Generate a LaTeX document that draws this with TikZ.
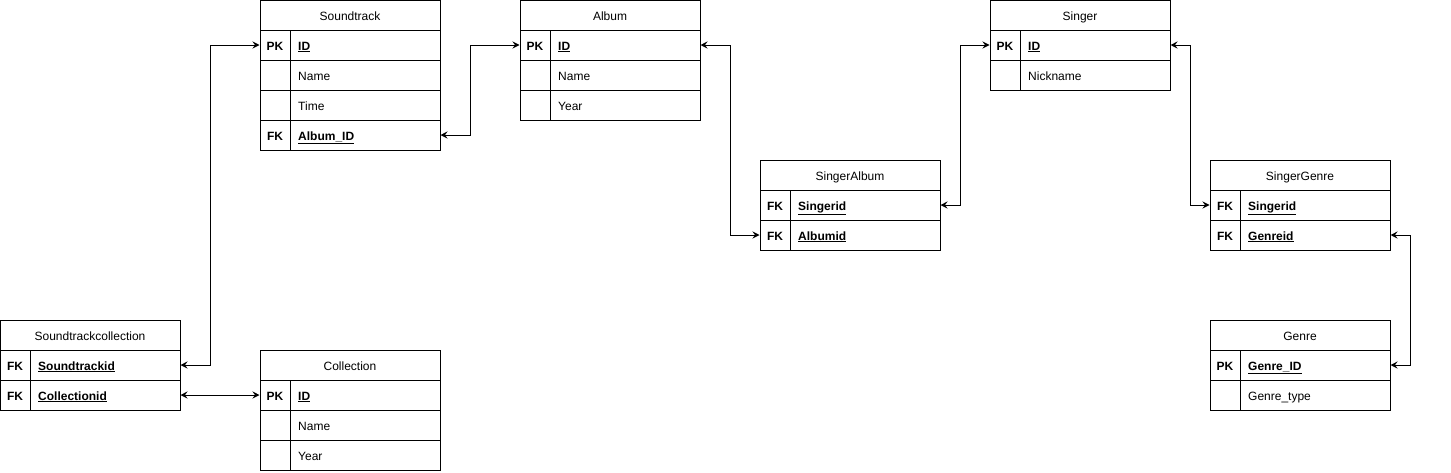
\documentclass[tikz,border=0pt]{standalone}
\usepackage{fontspec}
\setmainfont{Liberation Sans}
\usetikzlibrary{arrows.meta}
\tikzset{
  rowbox/.style={draw, line width=1pt, minimum width=180pt, minimum height=30pt, inner sep=0pt, fill=white},
  keytxt/.style={inner sep=0pt, anchor=base, font=\fontsize{12}{14}\selectfont\bfseries},
  fldtxt/.style={inner sep=0pt, anchor=base west, font=\fontsize{12}{14}\selectfont},
  hdrtxt/.style={inner sep=0pt, anchor=base, font=\fontsize{12}{14}\selectfont},
  divider/.style={line width=1pt},
  conn/.style={line width=1pt, {Stealth[length=7pt,width=7pt,inset=2.5pt]}-{Stealth[length=7pt,width=7pt,inset=2.5pt]}},
}
% name, index, x, ytop, key, field
\newcommand\erRow[6]{%
  \node[rowbox] (#1-#2) at ({#3+90},{#4+15}) {};
  \node[keytxt] (#1-#2k) at ({#3+15},{#4+20}) {#5};
  \node[fldtxt] (#1-#2f) at ({#3+38},{#4+20}) {#6};
  \draw[divider] ({#3+30},{#4}) -- ({#3+30},{#4+30});
}
% name, x, ytop, title
\newcommand\erHead[4]{%
  \node[rowbox] (#1) at ({#2+90},{#3+15}) {};
  \node[hdrtxt] (#1-t) at ({#2+90},{#3+20}) {#4};
}
\newcommand\ku[1]{\textbf{\underline{#1}}}
\begin{document}
\begin{tikzpicture}[x=1pt,y=-1pt]
\useasboundingbox (0,0) rectangle (1451,472);
% Soundtrack
\erHead{ST}{260}{0}{Soundtrack}
\erRow{ST}{1}{260}{30}{PK}{\ku{ID}}
\erRow{ST}{2}{260}{60}{}{Name}
\erRow{ST}{3}{260}{90}{}{Time}
\erRow{ST}{4}{260}{120}{FK}{\ku{Album\_ID}}
% Album
\erHead{AL}{520}{0}{Album}
\erRow{AL}{1}{520}{30}{PK}{\ku{ID}}
\erRow{AL}{2}{520}{60}{}{Name}
\erRow{AL}{3}{520}{90}{}{Year}
% Singer
\erHead{SI}{990}{0}{Singer}
\erRow{SI}{1}{990}{30}{PK}{\ku{ID}}
\erRow{SI}{2}{990}{60}{}{Nickname}
% SingerAlbum
\erHead{SA}{760}{160}{SingerAlbum}
\erRow{SA}{1}{760}{190}{FK}{\ku{Singerid}}
\erRow{SA}{2}{760}{220}{FK}{\ku{Albumid}}
% SingerGenre
\erHead{SG}{1210}{160}{SingerGenre}
\erRow{SG}{1}{1210}{190}{FK}{\ku{Singerid}}
\erRow{SG}{2}{1210}{220}{FK}{\ku{Genreid}}
% Genre
\erHead{GE}{1210}{320}{Genre}
\erRow{GE}{1}{1210}{350}{PK}{\ku{Genre\_ID}}
\erRow{GE}{2}{1210}{380}{}{Genre\_type}
% Soundtrackcollection
\erHead{SC}{0}{320}{Soundtrackcollection}
\erRow{SC}{1}{0}{350}{FK}{\ku{Soundtrackid}}
\erRow{SC}{2}{0}{380}{FK}{\ku{Collectionid}}
% Collection
\erHead{CO}{260}{350}{Collection}
\erRow{CO}{1}{260}{380}{PK}{\ku{ID}}
\erRow{CO}{2}{260}{410}{}{Name}
\erRow{CO}{3}{260}{440}{}{Year}
% connectors
\draw[conn] (SC-1.east) -- ++(30,0) |- (ST-1.west);
\draw[conn] (ST-4.east) -- ++(30,0) |- (AL-1.west);
\draw[conn] (AL-1.east) -- ++(30,0) |- (SA-2.west);
\draw[conn] (SA-1.east) -- ++(20,0) |- (SI-1.west);
\draw[conn] (SI-1.east) -- ++(20,0) |- (SG-1.west);
\draw[conn] (SG-2.east) -- ++(20,0) |- (GE-1.east);
\draw[conn] (SC-2.east) -- (CO-1.west);
\end{tikzpicture}
\end{document}
